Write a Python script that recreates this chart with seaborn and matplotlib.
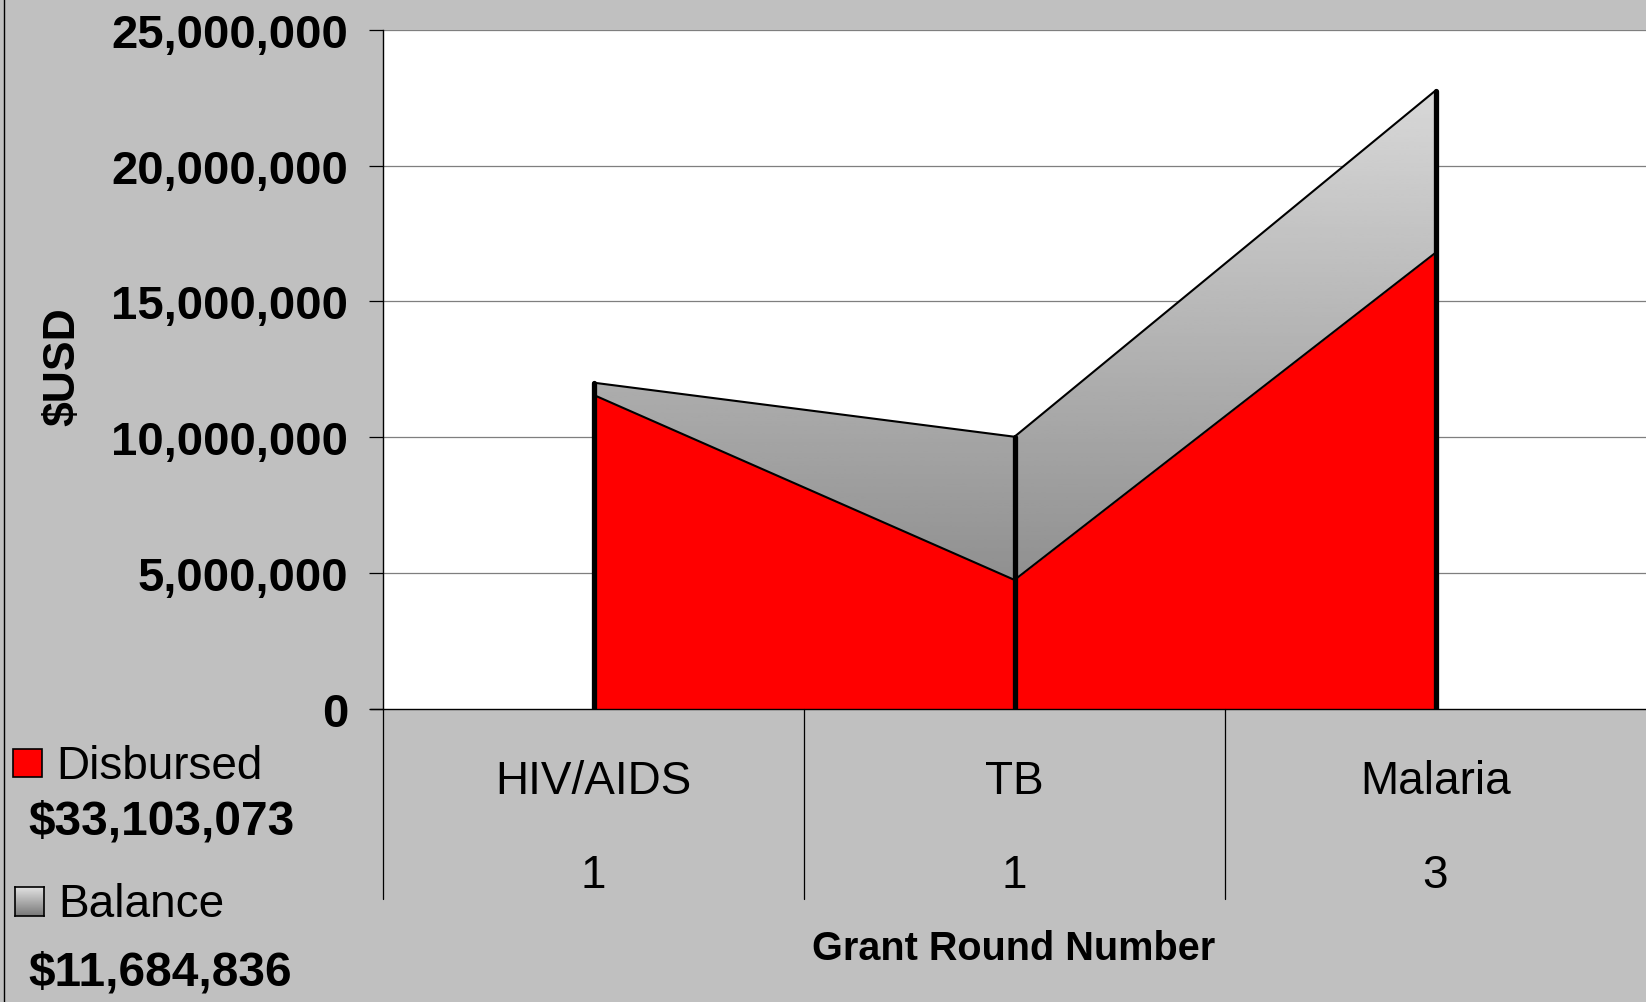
import numpy as np
import pandas as pd
import matplotlib
matplotlib.use("Agg")
import matplotlib.pyplot as plt
import matplotlib.transforms as mtransforms
from matplotlib.patches import Polygon, Rectangle
from matplotlib.lines import Line2D
import seaborn as sns

# --- dados ---
categorias = ["HIV/AIDS", "TB", "Malaria"]
rodadas = ["1", "1", "3"]
desembolsado = [11_560_000, 4_750_000, 16_790_000]
saldo = [450_000, 5_270_000, 5_970_000]
y_ticks = [0, 5_000_000, 10_000_000, 15_000_000, 20_000_000, 25_000_000]
legenda = [("Disbursed", "$33,103,073"), ("Balance", "$11,684,836")]

df = pd.DataFrame({"categoria": categorias, "desembolsado": desembolsado, "saldo": saldo})
df["pos"] = np.arange(len(df))
df["total"] = df["desembolsado"] + df["saldo"]

sns.set_style("white")
plt.rcParams["font.family"] = ["Liberation Sans", "DejaVu Sans"]
plt.rcParams["text.color"] = "black"
plt.rcParams["ytick.color"] = "black"
plt.rcParams["ytick.labelcolor"] = "black"

W, H = 1646, 1003
fig = plt.figure(figsize=(W / 100, H / 100), dpi=100, facecolor="#c0c0c0")
ax = fig.add_axes([383 / W, 1 - 710 / H, 1 - 383 / W, (710 - 30.7) / H])
ax.set_facecolor("white")
ax.set_xlim(-0.5, 2.5)
ax.set_ylim(0, 25_000_000)

# grade
for v in y_ticks[1:]:
    ax.axhline(v, color="#7f7f7f", lw=0.9, zorder=1)

# área vermelha (desembolsado)
ax.fill_between(df["pos"], 0, df["desembolsado"], color="#ff0000", lw=0, zorder=2)

# área do saldo com degradê vertical
xs = df["pos"].to_numpy()
verts = np.concatenate([np.column_stack([xs, df["total"]]),
                        np.column_stack([xs[::-1], df["desembolsado"].to_numpy()[::-1]])])
poly = Polygon(verts, closed=True, facecolor="none", edgecolor="none", transform=ax.transData)
ax.add_patch(poly)
grad = np.linspace(125, 225, 256)[:, None] / 255.0
img = ax.imshow(np.repeat(grad, 2, axis=1), cmap="gray", vmin=0, vmax=1, origin="lower",
                extent=[-0.5, 2.5, 0, 25_000_000], aspect="auto", zorder=2)
img.set_clip_path(poly)

# contornos
sns.lineplot(data=df, x="pos", y="total", color="black", lw=1.5, ax=ax, zorder=3)
sns.lineplot(data=df, x="pos", y="desembolsado", color="black", lw=1.5, ax=ax, zorder=3)
ax.vlines(df["pos"], 0, df["total"], color="black", lw=3.8, zorder=4, capstyle="round")

# eixos
for s in ["top", "right", "bottom"]:
    ax.spines[s].set_visible(False)
ax.spines["left"].set_color("black")
ax.spines["left"].set_linewidth(1)
ax.set_yticks(y_ticks)
ax.set_yticklabels([f"{v:,}" for v in y_ticks], fontsize=34, fontweight="bold")
ax.tick_params(axis="y", length=10, width=0.9, color="black", pad=15, left=True)
ax.set_xticks([])
ax.set_xlabel("")
ax.set_ylabel("")
fig.text(63 / W, 1 - 367 / H, "$USD", rotation=90, fontsize=32, fontweight="bold",
         ha="center", va="center")

# linha do zero e tabela de categorias
ax.plot([-0.5 - 13 / 421, 2.5], [0, 0], color="black", lw=1, clip_on=False, zorder=5)
trans = mtransforms.blended_transform_factory(ax.transData, fig.transFigure)
for xb in [-0.5, 0.5, 1.5]:
    ax.plot([xb, xb], [1 - 710 / H, 1 - 900 / H], color="black", lw=0.9,
            transform=trans, clip_on=False)
for i, row in df.iterrows():
    ax.text(row["pos"], 1 - 782 / H, row["categoria"], transform=trans, fontsize=33,
            ha="center", va="center")
    ax.text(row["pos"], 1 - 876 / H, rodadas[i], transform=trans, fontsize=33,
            ha="center", va="center")
fig.text(1014 / W, 1 - 949 / H, "Grant Round Number", fontsize=28.5, fontweight="bold",
         ha="center", va="center")

# legenda manual
fig.add_artist(Rectangle((13 / W, 1 - 778 / H), 29 / W, 28 / H, transform=fig.transFigure,
                         facecolor="#ff0000", edgecolor="black", lw=1.2))
fig.text(56 / W, 1 - 767 / H, legenda[0][0], fontsize=33, va="center", ha="left")
fig.text(28 / W, 1 - 822 / H, legenda[0][1], fontsize=34.5, fontweight="bold", va="center", ha="left")

lax = fig.add_axes([15 / W, 1 - 917 / H, 29 / W, 29 / H])
lax.imshow(np.repeat(np.linspace(225, 120, 64)[:, None] / 255.0, 2, axis=1), cmap="gray",
           vmin=0, vmax=1, aspect="auto")
lax.set_xticks([])
lax.set_yticks([])
for s in lax.spines.values():
    s.set_color("black")
    s.set_linewidth(1.2)
fig.text(58 / W, 1 - 905 / H, legenda[1][0], fontsize=33, va="center", ha="left")
fig.text(28 / W, 1 - 973 / H, legenda[1][1], fontsize=34.5, fontweight="bold", va="center", ha="left")

# borda esquerda da figura
fig.add_artist(Line2D([3.5 / W, 3.5 / W], [0, 1], transform=fig.transFigure, color="black", lw=1))

fig.savefig("out.png", dpi=100, facecolor=fig.get_facecolor())
